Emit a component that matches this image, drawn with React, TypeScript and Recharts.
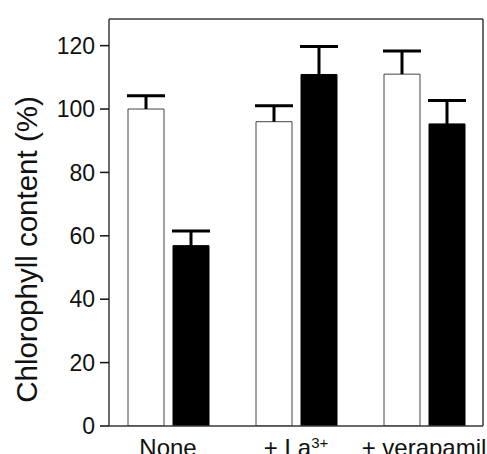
import React from 'react';
import { BarChart, Bar, XAxis, YAxis, ErrorBar, Label } from 'recharts';

const treatments = ['None', '+ La3+', '+ verapamil'];
const whiteValues = [100, 96, 111];
const whiteErrors = [4.2, 5.0, 7.3];
const blackValues = [56.9, 110.9, 95.3];
const blackErrors = [4.6, 8.8, 7.4];
const yTicks = [0, 20, 40, 60, 80, 100, 120];

const data = treatments.map((name, i) => ({
  name,
  white: whiteValues[i],
  whiteErr: [0, whiteErrors[i]],
  black: blackValues[i],
  blackErr: [0, blackErrors[i]],
}));

const FONT = '"Liberation Sans", Arial, Helvetica, sans-serif';
const AXIS = '#3a3a3a';

const CategoryTick = (props: any) => {
  const { x, y, payload } = props;
  const label: string = payload.value;
  const sup = label.endsWith('3+');
  return (
    <text x={x} y={y} dy={28} textAnchor="middle" fill="#111" fontSize={24} fontFamily={FONT}>
      {sup ? (
        <>
          <tspan>{label.slice(0, -2)}</tspan>
          <tspan fontSize={15} dy={-8}>3+</tspan>
        </>
      ) : (
        label
      )}
    </text>
  );
};

export default function App() {
  return (
    <div style={{ position: 'absolute', left: 0, top: 0, width: 487, height: 454, background: '#fff' }}>
      {/* error bars only go upwards: hide the lower cap */}
      <style>{'.recharts-errorBar line:nth-of-type(3){display:none}'}</style>
      <BarChart
        width={487}
        height={454}
        data={data}
        margin={{ top: 18, right: 3, left: 0, bottom: 0 }}
        barSize={36}
        barGap={9}
      >
        <XAxis
          dataKey="name"
          height={28}
          padding={{ left: -5, right: -5 }}
          tickLine={false}
          tickSize={0}
          tick={<CategoryTick />}
          axisLine={{ stroke: AXIS, strokeWidth: 1.5 }}
          interval={0}
        />
        <XAxis
          xAxisId="top"
          orientation="top"
          height={1}
          tick={false}
          tickLine={false}
          axisLine={{ stroke: AXIS, strokeWidth: 1.5 }}
        />
        <YAxis
          width={109}
          domain={[0, 128.4]}
          ticks={yTicks}
          tickSize={9}
          tickMargin={5}
          tick={{ fill: '#111', fontSize: 23, fontFamily: FONT }}
          tickLine={{ stroke: '#111', strokeWidth: 1.5 }}
          axisLine={{ stroke: AXIS, strokeWidth: 1.5 }}
          allowDataOverflow
        >
          <Label
            value="Chlorophyll content (%)"
            angle={-90}
            position="center"
            dx={-28}
            dy={27}
            style={{ fontSize: 29.5, fontFamily: FONT, fill: '#111' }}
          />
        </YAxis>
        <YAxis
          yAxisId="right"
          orientation="right"
          width={1}
          tick={false}
          tickLine={false}
          axisLine={{ stroke: AXIS, strokeWidth: 1.5 }}
        />
        <Bar dataKey="white" fill="#fff" stroke="#444" strokeWidth={1} isAnimationActive={false}>
          <ErrorBar dataKey="whiteErr" width={19} strokeWidth={3} stroke="#000" direction="y" />
        </Bar>
        <Bar dataKey="black" fill="#000" stroke="#000" strokeWidth={1} isAnimationActive={false}>
          <ErrorBar dataKey="blackErr" width={19} strokeWidth={3} stroke="#000" direction="y" />
        </Bar>
      </BarChart>
    </div>
  );
}
